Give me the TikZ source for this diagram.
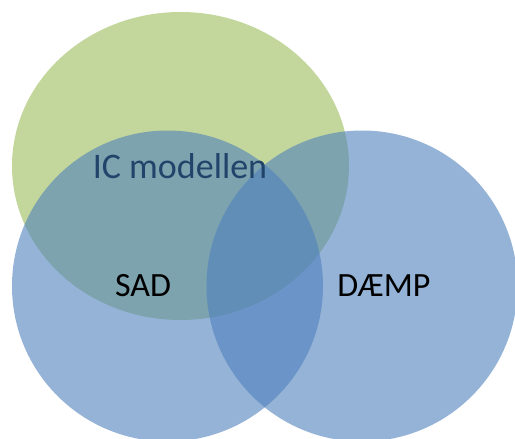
\documentclass[tikz,border=0pt]{standalone}
\usepackage{fontspec}
\setmainfont{Carlito}
\definecolor{grn}{HTML}{9BBB59}
\definecolor{blu}{HTML}{4F81BD}
\definecolor{ictext}{HTML}{21456A}
\begin{document}
\begin{tikzpicture}[x=1pt,y=-1pt,
  setfill/.style={fill opacity=0.6},
  lbl/.style={font=\fontsize{34}{40}\selectfont, inner sep=0pt}]
\useasboundingbox (0,0) rectangle (515,439);
\begin{scope}
\clip (0,0) rectangle (515,439);
\fill[grn,setfill] (180.5,166) ellipse [x radius=168.5, y radius=154];
\fill[blu,setfill] (167.5,286) circle [radius=155.5];
\fill[blu,setfill] (362,286) circle [radius=155.5];
\end{scope}
\node[lbl, text=ictext, font=\fontsize{36}{42}\selectfont] (ic) at (180,166) {IC modellen};
\node[lbl] (sad) at (143,286) {SAD};
\node[lbl] (daemp) at (384,286) {DÆMP};
\end{tikzpicture}
\end{document}
